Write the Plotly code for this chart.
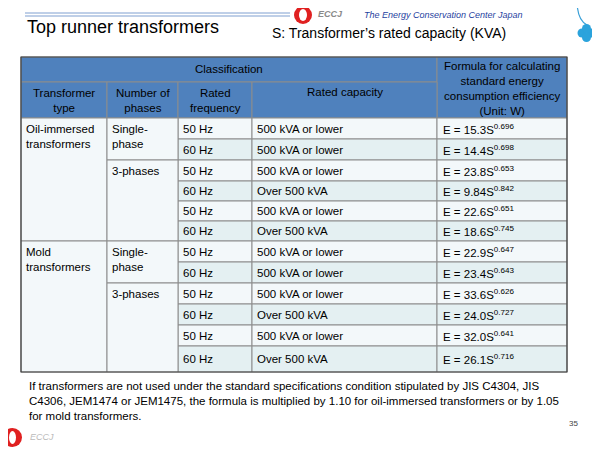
import plotly.graph_objects as go

types = ["Oil-immersed<br>transformers", "Mold<br>transformers"]
phases = ["Single-<br>phase", "3-phases"]
freqs = ["50 Hz", "60 Hz", "50 Hz", "60 Hz", "50 Hz", "60 Hz",
         "50 Hz", "60 Hz", "50 Hz", "60 Hz", "50 Hz", "60 Hz"]
caps = ["500 kVA or lower", "500 kVA or lower", "500 kVA or lower", "Over 500 kVA",
        "500 kVA or lower", "Over 500 kVA", "500 kVA or lower", "500 kVA or lower",
        "500 kVA or lower", "Over 500 kVA", "500 kVA or lower", "Over 500 kVA"]
coefs = ["15.3", "14.4", "23.8", "9.84", "22.6", "18.6", "22.9", "23.4", "33.6", "24.0", "32.0", "26.1"]
expos = ["0.696", "0.698", "0.653", "0.842", "0.651", "0.745", "0.647", "0.643", "0.626", "0.727", "0.641", "0.716"]

cols = [21, 107, 178, 252, 437, 567]
rows = [118, 139, 160, 181, 201, 221, 241, 262, 283, 304, 325, 346, 372]
HEAD = "#4F81BD"
F = "Liberation Sans"

shapes, ann = [], []
def rect(x0, y0, x1, y1, fill, lc="#8c8c8c", w=1):
    shapes.append(dict(type="rect", x0=x0, y0=y0, x1=x1, y1=y1, fillcolor=fill,
                       line=dict(color=lc, width=w), layer="below"))
def text(x, y, t, size=11.5, color="black", xa="left", ya="middle"):
    ann.append(dict(x=x, y=y, text=t, showarrow=False, xanchor=xa, yanchor=ya,
                    font=dict(size=size, color=color, family=F), align=xa))

# header
rect(cols[0], 57, cols[4], 82, HEAD)
rect(cols[4], 57, cols[5], rows[0], HEAD)
for i in range(4):
    rect(cols[i], 82, cols[i+1], rows[0], HEAD)
text((cols[0]+cols[4])/2, 69, "Classification", xa="center")
text((cols[4]+cols[5])/2, 88, "Formula for calculating<br>standard energy<br>consumption efficiency<br>(Unit: W)", xa="center")
hdr = ["Transformer<br>type", "Number of<br>phases", "Rated<br>frequency", "Rated capacity"]
for i, h in enumerate(hdr):
    text((cols[i]+cols[i+1])/2, 92 if i == 3 else 100, h, xa="center")

# body
for r in range(12):
    fill = "#F3F8FA" if r % 2 == 0 else "#E4F0F2"
    rect(cols[2], rows[r], cols[3], rows[r+1], fill)
    rect(cols[3], rows[r], cols[4], rows[r+1], fill)
    rect(cols[4], rows[r], cols[5], rows[r+1], fill)
    ym = (rows[r]+rows[r+1])/2
    text(cols[2]+3, ym, freqs[r])
    text(cols[3]+3, ym, caps[r])
    text(cols[4]+4, ym, "E = %sS<sup>%s</sup>" % (coefs[r], expos[r]))
for t in range(2):
    rect(cols[0], rows[6*t], cols[1], rows[6*t+6], "#F3F8FA")
    text(cols[0]+3, rows[6*t]+3, types[t], ya="top")
    rect(cols[1], rows[6*t], cols[2], rows[6*t+2], "#F3F8FA")
    text(cols[1]+3, rows[6*t]+3, phases[0], ya="top")
    rect(cols[1], rows[6*t+2], cols[2], rows[6*t+6], "#F3F8FA")
    text(cols[1]+3, rows[6*t+2]+3, phases[1], ya="top")
shapes.append(dict(type="rect", x0=cols[0], y0=57, x1=cols[5], y1=rows[-1],
                   line=dict(color="#404040", width=1.2)))

# title & decor
shapes.append(dict(type="line", x0=25, x1=290, y0=13, y1=13, line=dict(color="#7F9FD0", width=1)))
shapes.append(dict(type="line", x0=25, x1=290, y0=16, y1=16, line=dict(color="#7F9FD0", width=1)))
text(25, 27, "Top runner transformers", size=18)
text(270, 33, "S: Transformer’s rated capacity (KVA)", size=14)
shapes.append(dict(type="circle", x0=294, y0=6, x1=312, y1=24, fillcolor="#E02020", line=dict(width=0)))
shapes.append(dict(type="circle", x0=299, y0=9, x1=307, y1=21, fillcolor="white", line=dict(width=0)))
text(316, 14, "<i><b>ECCJ</b></i>", size=9, color="#8a8a8a")
text(362, 15, "<i>The Energy Conservation Center Japan</i>", size=9, color="#1F3FA0")
shapes.append(dict(type="path", path="M 577 0 Q 577 20 587 25", line=dict(color="#3AA0D8", width=1.2)))
for cx, cy in [(582, 33), (591, 33), (586.5, 28.5), (586.5, 37.5)]:
    shapes.append(dict(type="circle", x0=cx-4.5, y0=cy-4.5, x1=cx+4.5, y1=cy+4.5, fillcolor="#2BA3DC", line=dict(width=0)))

text(27, 401, "If transformers are not used under the standard specifications condition stipulated by JIS C4304, JIS<br>"
              "C4306, JEM1474 or JEM1475, the formula is multiplied by 1.10 for oil-immersed transformers or by 1.05<br>"
              "for mold transformers.", size=11.5)
text(580, 423, "35", size=8, color="#444", xa="right")
shapes.append(dict(type="circle", x0=3, y0=428, x1=22, y1=447, fillcolor="#E02020", line=dict(width=0)))
shapes.append(dict(type="circle", x0=9, y0=431, x1=16, y1=444, fillcolor="white", line=dict(width=0)))
text(28, 437, "<i>ECCJ</i>", size=9, color="#bbbbbb")

fig = go.Figure()
# ranges offset by the page's 8px body margin
fig.update_layout(width=600, height=450, margin=dict(l=0, r=0, t=0, b=0),
                  paper_bgcolor="white", plot_bgcolor="white",
                  xaxis=dict(range=[8, 608], visible=False, fixedrange=True),
                  yaxis=dict(range=[458, 8], visible=False, fixedrange=True),
                  shapes=shapes, annotations=ann, showlegend=False)
fig.write_html("out.html")
